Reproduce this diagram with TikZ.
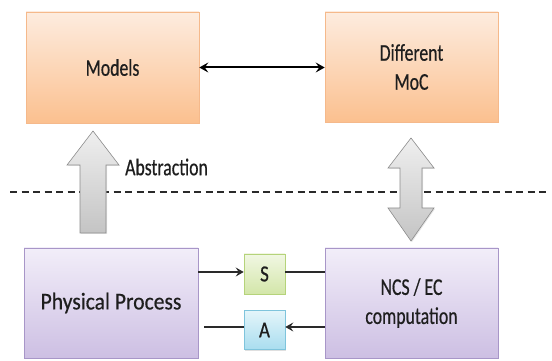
\documentclass[tikz,border=0pt]{standalone}
\usepackage{fontspec}
\setmainfont{Carlito}
\newfontfamily\cnd[FakeStretch=0.74,FakeBold=0.5]{Carlito}
\newfontfamily\cndp[FakeStretch=0.9,FakeBold=0.5]{Carlito}
\newfontfamily\cnds[FakeStretch=0.82,FakeBold=0.6]{Carlito}
\usetikzlibrary{arrows.meta,shadows}
\definecolor{txt}{HTML}{1E1E1E}
\definecolor{orTop}{HTML}{FDECDF}
\definecolor{orBot}{HTML}{FBC08F}
\definecolor{orBrd}{HTML}{F5B98B}
\definecolor{puTop}{HTML}{F2EEF9}
\definecolor{puBot}{HTML}{CDBFE3}
\definecolor{puBrd}{HTML}{A896C8}
\definecolor{grTop}{HTML}{F1F7E3}
\definecolor{grBot}{HTML}{D3E6A9}
\definecolor{grBrd}{HTML}{B5D37A}
\definecolor{blTop}{HTML}{E4F5FA}
\definecolor{blBot}{HTML}{A9DDEF}
\definecolor{blBrd}{HTML}{7FC4DC}
\definecolor{gaTop}{HTML}{EFEFEF}
\definecolor{gaBot}{HTML}{C4C4C4}
\definecolor{gaBrd}{HTML}{8C8C8C}
\definecolor{lnc}{HTML}{2A2A2A}
\begin{document}
\begin{tikzpicture}[x=1pt,y=1pt,
  box/.style={rectangle, inner sep=0pt, align=center, text=txt, line width=0.6pt,
    drop shadow={opacity=0.25, shadow xshift=1.2pt, shadow yshift=-1.5pt},
    font=\cnd\fontsize{24}{29}\selectfont},
  obox/.style={box, draw=orBrd, top color=orTop, bottom color=orBot},
  pbox/.style={box, draw=puBrd, top color=puTop, bottom color=puBot},
  sbox/.style={box, draw=grBrd, top color=grTop, bottom color=grBot},
  abox/.style={box, draw=blBrd, top color=blTop, bottom color=blBot},
  small/.style={font=\cnds\fontsize{23}{27}\selectfont},
  conn/.style={draw=lnc, line width=1.8pt},
  tip/.style={-{Stealth[length=8pt,width=9pt,inset=3pt]}},
  dashline/.style={draw=lnc, line width=2pt, dash pattern=on 7pt off 4.5pt},
  blockarrow/.style={draw=gaBrd, line width=0.6pt, top color=gaTop, bottom color=gaBot,
    drop shadow={opacity=0.2, shadow xshift=1pt, shadow yshift=-1pt}},
  lbl/.style={text=txt, inner sep=0pt, font=\cnd\fontsize{24}{29}\selectfont}
]
\useasboundingbox (0,0) rectangle (552,361);

% dashed separator
\draw[dashline] (10,169) -- (550,169);

% boxes
\node[obox, minimum width=173pt, minimum height=111pt] (models) at (112.5,293.5) {Models};
\node[obox, minimum width=173pt, minimum height=110pt] (moc) at (411.5,294) {Different\\MoC};
\node[pbox, minimum width=174pt, minimum height=110pt, font=\cndp\fontsize{24}{29}\selectfont] (phys) at (111,58) {Physical Process};
\node[pbox, minimum width=173pt, minimum height=110pt] (ncs) at (411.5,58) {NCS / EC\\computation};
\node[sbox, small, minimum width=41pt, minimum height=40pt] (s) at (264.5,87) {S};
\node[abox, small, minimum width=41pt, minimum height=39pt] (a) at (264.5,31) {A};

% connectors
\draw[conn, draw=black, line width=2pt, {Stealth[length=9pt,width=10pt,inset=3.5pt]}-{Stealth[length=9pt,width=10pt,inset=3.5pt]}] (models.east) -- (models.east -| moc.west);
\draw[conn, tip] ([yshift=2pt]s.west -| phys.east) -- ([yshift=2pt]s.west);
\draw[conn] ([yshift=2pt]s.east) -- ([yshift=2pt]s.east -| ncs.west);
\draw[conn, tip] ([yshift=3pt]a.east -| ncs.west) -- ([yshift=3pt]a.east);
\coordinate (aend) at (204,34);
\draw[conn] ([yshift=3pt]a.west) -- (aend);

% block arrows
\path[blockarrow] (80,128) -- (80,196) -- (67,196) -- (93,230) -- (119,196) -- (106,196) -- (106,128) -- cycle;
\node[lbl, anchor=west] (abs) at (125,194) {Abstraction};
\path[blockarrow] (400,153) -- (400,193) -- (388,193) -- (411,223) -- (434,193) -- (422,193)
  -- (422,153) -- (434,153) -- (411,120) -- (388,153) -- cycle;
\end{tikzpicture}
\end{document}
